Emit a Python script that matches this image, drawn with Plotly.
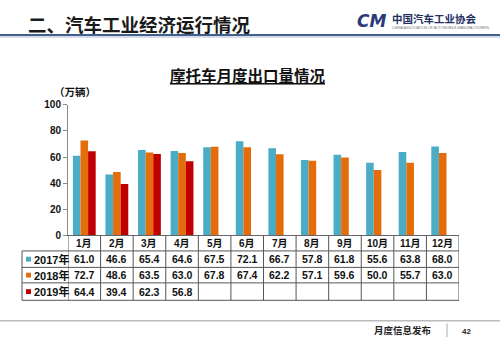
import plotly.graph_objects as go

months = ["1月", "2月", "3月", "4月", "5月", "6月", "7月", "8月", "9月", "10月", "11月", "12月"]
series_names = ["2017年", "2018年", "2019年"]
v2017 = [61.0, 46.6, 65.4, 64.6, 67.5, 72.1, 66.7, 57.8, 61.8, 55.6, 63.8, 68.0]
v2018 = [72.7, 48.6, 63.5, 63.0, 67.8, 67.4, 62.2, 57.1, 59.6, 50.0, 55.7, 63.0]
v2019 = [64.4, 39.4, 62.3, 56.8]
y_ticks = [0, 20, 40, 60, 80, 100]
colors = ["#4BACC6", "#E46C0A", "#C00000"]

W, H = 500, 345
def px(x):
    return x / W
def py(y):
    return 1 - y / H

X0, X1 = 68, 459
Y_TOP, Y_BOT = 102, 237
ROWS = [237, 253, 270, 286, 304]
LABEL_X0 = 22

FONT = "Liberation Sans, Noto Sans CJK SC, sans-serif"

fig = go.Figure()
xs = list(range(len(months)))
all_vals = [v2017, v2018, v2019]
for name, vals, c in zip(series_names, all_vals, colors):
    fig.add_trace(go.Bar(x=xs[:len(vals)], y=vals, name=name, marker=dict(color=c, line=dict(width=0))))

fig.update_layout(
    width=W, height=H,
    margin=dict(l=0, r=0, t=0, b=0),
    paper_bgcolor="white", plot_bgcolor="white",
    barmode="group", bargap=0.3, bargroupgap=0.0,
    showlegend=False,
    font=dict(family=FONT, color="#111"),
    xaxis=dict(domain=[px(X0), px(X1)], range=[-0.5, 11.5], showticklabels=False,
               showgrid=False, zeroline=False, showline=True, linecolor="#666", linewidth=1,
               fixedrange=True),
    yaxis=dict(domain=[py(Y_BOT), py(Y_TOP)], range=[0, 100], tickvals=y_ticks,
               ticktext=[f"<b>{t}</b>" for t in y_ticks], tickfont=dict(size=10, family=FONT, color="#111"),
               ticks="outside", ticklen=4, tickcolor="#888", showline=True, linecolor="#888",
               linewidth=1, showgrid=False, zeroline=False, fixedrange=True),
)

shapes = []
ann = []

# table lines
line_c = "#555"
for i in range(len(months) + 1):
    shapes.append(dict(type="line", xref="x", yref="paper", x0=i - 0.5, x1=i - 0.5,
                       y0=py(ROWS[0]), y1=py(ROWS[-1]), line=dict(color=line_c, width=1)))
shapes.append(dict(type="line", xref="paper", yref="paper", x0=px(LABEL_X0), x1=px(LABEL_X0),
                   y0=py(ROWS[1]), y1=py(ROWS[-1]), line=dict(color=line_c, width=1)))
for r in ROWS[1:]:
    shapes.append(dict(type="line", xref="paper", yref="paper", x0=px(LABEL_X0), x1=px(X1),
                       y0=py(r), y1=py(r), line=dict(color=line_c, width=1)))

# month header
for i, m in enumerate(months):
    ann.append(dict(x=i, y=py((ROWS[0] + ROWS[1]) / 2), xref="x", yref="paper", text=f"<b>{m}</b>",
                    showarrow=False, font=dict(size=10, family=FONT, color="#111"),
                    xanchor="center", yanchor="middle"))
# rows
for k, (name, vals, c) in enumerate(zip(series_names, all_vals, colors)):
    yc = (ROWS[k + 1] + ROWS[k + 2]) / 2
    shapes.append(dict(type="rect", xref="paper", yref="paper", x0=px(26), x1=px(31),
                       y0=py(yc + 2.5), y1=py(yc - 2.5), fillcolor=c, line=dict(width=0)))
    ann.append(dict(x=px(32), y=py(yc), xref="paper", yref="paper", text=f"<b>{name}</b>",
                    showarrow=False, font=dict(size=11, family=FONT, color="#111"),
                    xanchor="left", yanchor="middle"))
    for i, v in enumerate(vals):
        ann.append(dict(x=i, y=py(yc), xref="x", yref="paper", text=f"<b>{v:.1f}</b>",
                        showarrow=False, font=dict(size=10.5, family=FONT, color="#111"),
                        xanchor="center", yanchor="middle"))

# unit label
ann.append(dict(x=px(52), y=py(88.5), xref="paper", yref="paper", text="<b>（万辆）</b>",
                showarrow=False, font=dict(size=10.5, family="Noto Sans CJK SC", color="#111"),
                xanchor="left", yanchor="middle"))
# chart title
ann.append(dict(x=px(248), y=py(71), xref="paper", yref="paper", text="<b><u>摩托车月度出口量情况</u></b>",
                showarrow=False, font=dict(size=15.5, family="Noto Sans CJK SC", color="#111"),
                xanchor="center", yanchor="middle"))
# page header
ann.append(dict(x=px(26), y=py(19), xref="paper", yref="paper", text="<b>二、汽车工业经济运行情况</b>",
                showarrow=False, font=dict(size=18.5, family="Noto Sans CJK SC", color="#1a1a1a"),
                xanchor="left", yanchor="middle"))
shapes.append(dict(type="line", xref="paper", yref="paper", x0=0, x1=1, y0=py(30), y1=py(30),
                   line=dict(color="#3f5f8f", width=2)))
shapes.append(dict(type="line", xref="paper", yref="paper", x0=0, x1=1, y0=py(32), y1=py(32),
                   line=dict(color="#c8d2e0", width=1.5)))
# logo
ann.append(dict(x=px(371), y=py(15), xref="paper", yref="paper", text="<b><i>CM</i></b>",
                showarrow=False, font=dict(size=17, family="DejaVu Sans", color="#2a3a78"),
                xanchor="center", yanchor="middle"))
ann.append(dict(x=px(390), y=py(13), xref="paper", yref="paper", text="<b>中国汽车工业协会</b>",
                showarrow=False, font=dict(size=10.5, family="Noto Sans CJK SC", color="#23305f"),
                xanchor="left", yanchor="middle"))
ann.append(dict(x=px(390), y=py(23), xref="paper", yref="paper",
                text="CHINA ASSOCIATION OF AUTOMOBILE MANUFACTURERS",
                showarrow=False, font=dict(size=3.5, family=FONT, color="#777"),
                xanchor="left", yanchor="middle"))
# footer
shapes.append(dict(type="line", xref="paper", yref="paper", x0=0, x1=1, y0=py(325), y1=py(325),
                   line=dict(color="#bbbbbb", width=1.5)))
shapes.append(dict(type="line", xref="paper", yref="paper", x0=px(447), x1=px(447), y0=py(328), y1=py(342),
                   line=dict(color="#aaaaaa", width=1)))
ann.append(dict(x=px(403), y=py(335), xref="paper", yref="paper", text="<b>月度信息发布</b>",
                showarrow=False, font=dict(size=9.5, family="Noto Sans CJK SC", color="#222"),
                xanchor="center", yanchor="middle"))
ann.append(dict(x=px(466), y=py(336), xref="paper", yref="paper", text="<b>42</b>",
                showarrow=False, font=dict(size=8, family=FONT, color="#222"),
                xanchor="center", yanchor="middle"))

fig.update_layout(shapes=shapes, annotations=ann)
fig.write_html("out.html")
